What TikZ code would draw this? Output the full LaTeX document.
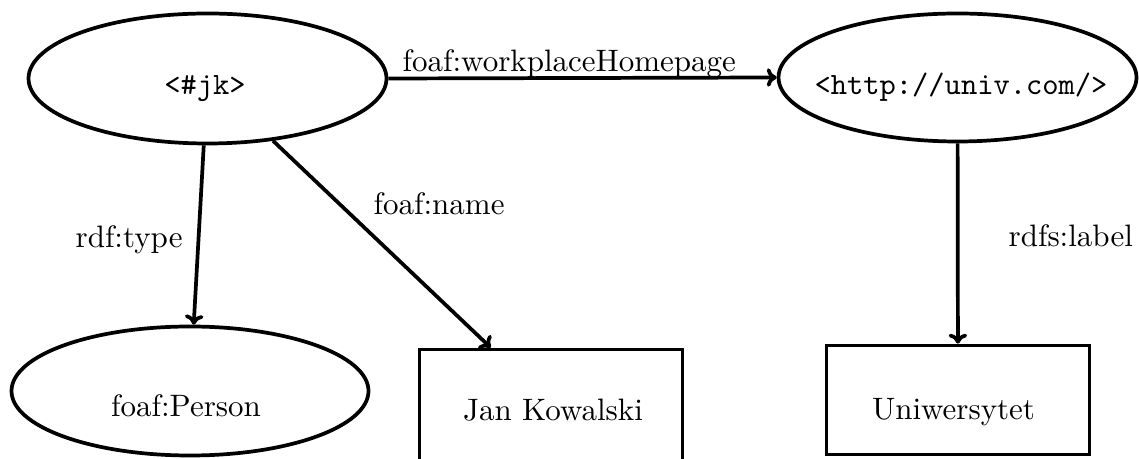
\documentclass[tikz,border=0pt]{standalone}
\usetikzlibrary{arrows.meta,shapes.geometric}

% one drawing unit = 0.32258pt
\def\pxl{0.32258pt}

\tikzset{
  res/.style={ellipse, draw, line width=1.2pt, inner sep=0pt},
  lit/.style={rectangle, draw, line width=1.2pt, inner sep=0pt},
  prop/.style={line width=1.2pt, -{To[length=3.2pt,width=6pt]}},
  txt/.style={anchor=base, inner sep=0pt},
  lbl/.style={anchor=base west, inner sep=0pt}
}

\begin{document}
\begin{tikzpicture}[x=0.32258pt, y=-0.32258pt]
  \useasboundingbox (0,0) rectangle (1139,459);
  \clip (0,0) rectangle (1139,459);

  % resources (ellipses) and literals (boxes)
  \node[res, minimum width=358*\pxl, minimum height=130*\pxl] (jk)     at (207.5,78.5) {};
  \node[res, minimum width=358*\pxl, minimum height=128*\pxl] (uri)    at (957.5,77.5) {};
  \node[res, minimum width=357*\pxl, minimum height=129*\pxl] (person) at (190,391)    {};
  \node[lit, minimum width=263*\pxl, minimum height=111*\pxl] (jan)    at (551,405)    {};
  \node[lit, minimum width=263*\pxl, minimum height=109*\pxl] (univ)   at (958,400)    {};

  % node texts
  \node[txt] (jk-t)     at (205,95)  {\ttfamily <\#jk>};
  \node[txt] (uri-t)    at (961,95)  {\ttfamily <http://univ.com/>};
  \node[txt] (person-t) at (186,417) {foaf:Person};
  \node[txt] (jan-t)    at (553,421) {Jan Kowalski};
  \node[txt] (univ-t)   at (953.5,420) {Uniwersytet};

  % properties
  \draw[prop] (jk.east) -- (uri.west);
  \draw[prop] (jk) -- (person);
  \draw[prop] (jk) -- (jan);
  \draw[prop] (uri) -- (univ);

  % property labels
  \node[lbl] (l-work)  at (402,72)  {foaf:workplaceHomepage};
  \node[lbl] (l-type)  at (75,248)  {rdf:type};
  \node[lbl] (l-name)  at (373,215) {foaf:name};
  \node[lbl] (l-label) at (1008,247) {rdfs:label};
\end{tikzpicture}
\end{document}
